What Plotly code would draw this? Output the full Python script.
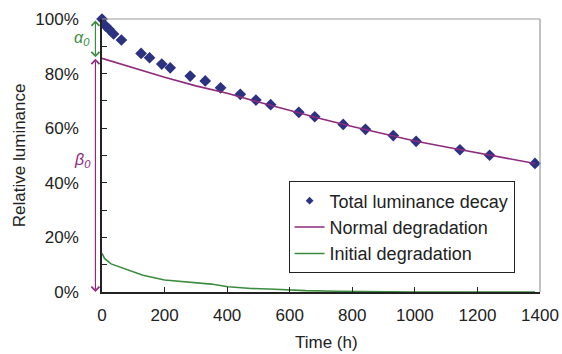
import plotly.graph_objects as go

# Data
time_points = [0, 12, 22, 37, 62, 125, 152, 191, 218, 282, 330, 379, 442, 492, 539,
               629, 680, 771, 842, 931, 1004, 1144, 1239, 1384]
total_decay = [100, 97.4, 96.3, 94.5, 92.3, 87.4, 85.8, 83.5, 82.1, 79.1, 77.3, 74.8, 72.4,
               70.3, 68.6, 65.8, 64.2, 61.4, 59.6, 57.3, 55.2, 52.1, 50.1, 47.1]

normal_t = [0, 100, 200, 300, 400, 500, 600, 700, 800, 900, 1000, 1100, 1200, 1300, 1384]
normal_v = [85.6, 82.1, 78.7, 75.5, 72.8, 69.6, 66.5, 63.5, 60.6, 57.9, 55.3, 53.1, 50.9, 48.9, 47.1]

initial_t = [0, 8, 29, 83, 131, 200, 296, 349, 403, 477, 552, 650, 750, 850, 1000, 1200, 1384]
initial_v = [14.2, 12.3, 10.3, 8.1, 6.1, 4.4, 3.4, 2.9, 1.9, 1.3, 1.0, 0.5, 0.3, 0.1, 0.0, 0.0, 0.0]

y_ticks = [0, 20, 40, 60, 80, 100]
y_ticktext = ["0%", "20%", "40%", "60%", "80%", "100%"]
x_ticks = [0, 200, 400, 600, 800, 1000, 1200, 1400]

alpha0_top, alpha0_bottom = 100, 86
beta0_bottom = 0

NAVY = "#2b3282"
PURPLE = "#8e2b7e"
GREEN = "#3a8c3f"
TXT = "#222222"
FONT = "Liberation Sans, Arial, sans-serif"
FS = 17

fig = go.Figure()
fig.add_trace(go.Scatter(x=time_points, y=total_decay, mode="markers",
                         name="Total luminance decay", showlegend=False,
                         marker=dict(symbol="diamond", size=9, color=NAVY),
                         cliponaxis=False))
# legend entry with the smaller legend symbol
fig.add_trace(go.Scatter(x=[None], y=[None], mode="markers", name="Total luminance decay",
                         marker=dict(symbol="diamond", size=6, color=NAVY)))
fig.add_trace(go.Scatter(x=normal_t, y=normal_v, mode="lines", name="Normal degradation",
                         line=dict(color=PURPLE, width=1.6)))
fig.add_trace(go.Scatter(x=initial_t, y=initial_v, mode="lines", name="Initial degradation",
                         line=dict(color=GREEN, width=1.6)))

arrow_x = -0.015
fig.add_annotation(x=arrow_x, xref="paper", y=alpha0_bottom, yref="y",
                   ax=0, axref="pixel", ay=alpha0_top, ayref="y",
                   showarrow=True, arrowside="end+start", arrowhead=4, startarrowhead=4,
                   arrowsize=1.3, startarrowsize=1.3, arrowwidth=1.2, arrowcolor=GREEN, text="")
fig.add_annotation(x=arrow_x, xref="paper", y=beta0_bottom, yref="y",
                   ax=0, axref="pixel", ay=alpha0_bottom, ayref="y",
                   showarrow=True, arrowside="end+start", arrowhead=4, startarrowhead=4,
                   arrowsize=1.3, startarrowsize=1.3, arrowwidth=1.2, arrowcolor=PURPLE, text="")
fig.add_annotation(x=-0.045, xref="paper", xanchor="center", y=93, yref="y", showarrow=False,
                   text="<i>α</i><sub><i>0</i></sub>", font=dict(size=16, color=GREEN, family=FONT))
fig.add_annotation(x=-0.045, xref="paper", xanchor="center", y=48, yref="y", showarrow=False,
                   text="<i>β</i><sub><i>0</i></sub>", font=dict(size=16, color=PURPLE, family=FONT))

# axis titles
fig.add_annotation(x=-0.188, xref="paper", xanchor="center", y=0.5, yref="paper",
                   yanchor="middle", showarrow=False,
                   text="Relative luminance", textangle=-90,
                   font=dict(size=FS, color=TXT, family=FONT))
fig.add_annotation(x=0.513, xref="paper", xanchor="center", y=-0.185, yref="paper",
                   yanchor="middle", showarrow=False,
                   text="Time (h)", font=dict(size=FS, color=TXT, family=FONT))

# top / right frame in gray
fig.add_shape(type="line", xref="paper", yref="paper", x0=0, x1=1, y0=1, y1=1,
              line=dict(color="#999999", width=1.2))
fig.add_shape(type="line", xref="paper", yref="paper", x0=1, x1=1, y0=0, y1=1,
              line=dict(color="#999999", width=1.2))

fig.update_layout(
    width=562, height=354,
    margin=dict(l=102, r=22, t=19, b=62),
    paper_bgcolor="white", plot_bgcolor="white",
    font=dict(family=FONT, size=FS, color=TXT),
    showlegend=True,
    legend=dict(x=0.426, y=0.405, xanchor="left", yanchor="top",
                bgcolor="white", bordercolor=TXT, borderwidth=1,
                font=dict(size=18), tracegroupgap=0, itemwidth=30),
    xaxis=dict(range=[0, 1400], tickvals=x_ticks, ticks="inside", ticklen=5,
               tickcolor=TXT, automargin=False, ticklabelstandoff=7,
               showgrid=False, zeroline=False, showline=True, linecolor=TXT, linewidth=1.5,
               tickfont=dict(size=FS)),
    yaxis=dict(range=[0, 100], tickvals=y_ticks, ticktext=y_ticktext, ticks="inside", ticklen=5,
               tickcolor=TXT, automargin=False, ticklabelstandoff=18,
               minor=dict(dtick=10, ticks="inside", ticklen=5, showgrid=False, tickcolor=TXT),
               showgrid=False, zeroline=False, showline=True, linecolor=TXT, linewidth=1.5,
               tickfont=dict(size=FS)),
)

fig.write_html("out.html", config={"displayModeBar": False},
               post_script="document.body.style.margin='0';document.body.style.overflow='hidden';")
